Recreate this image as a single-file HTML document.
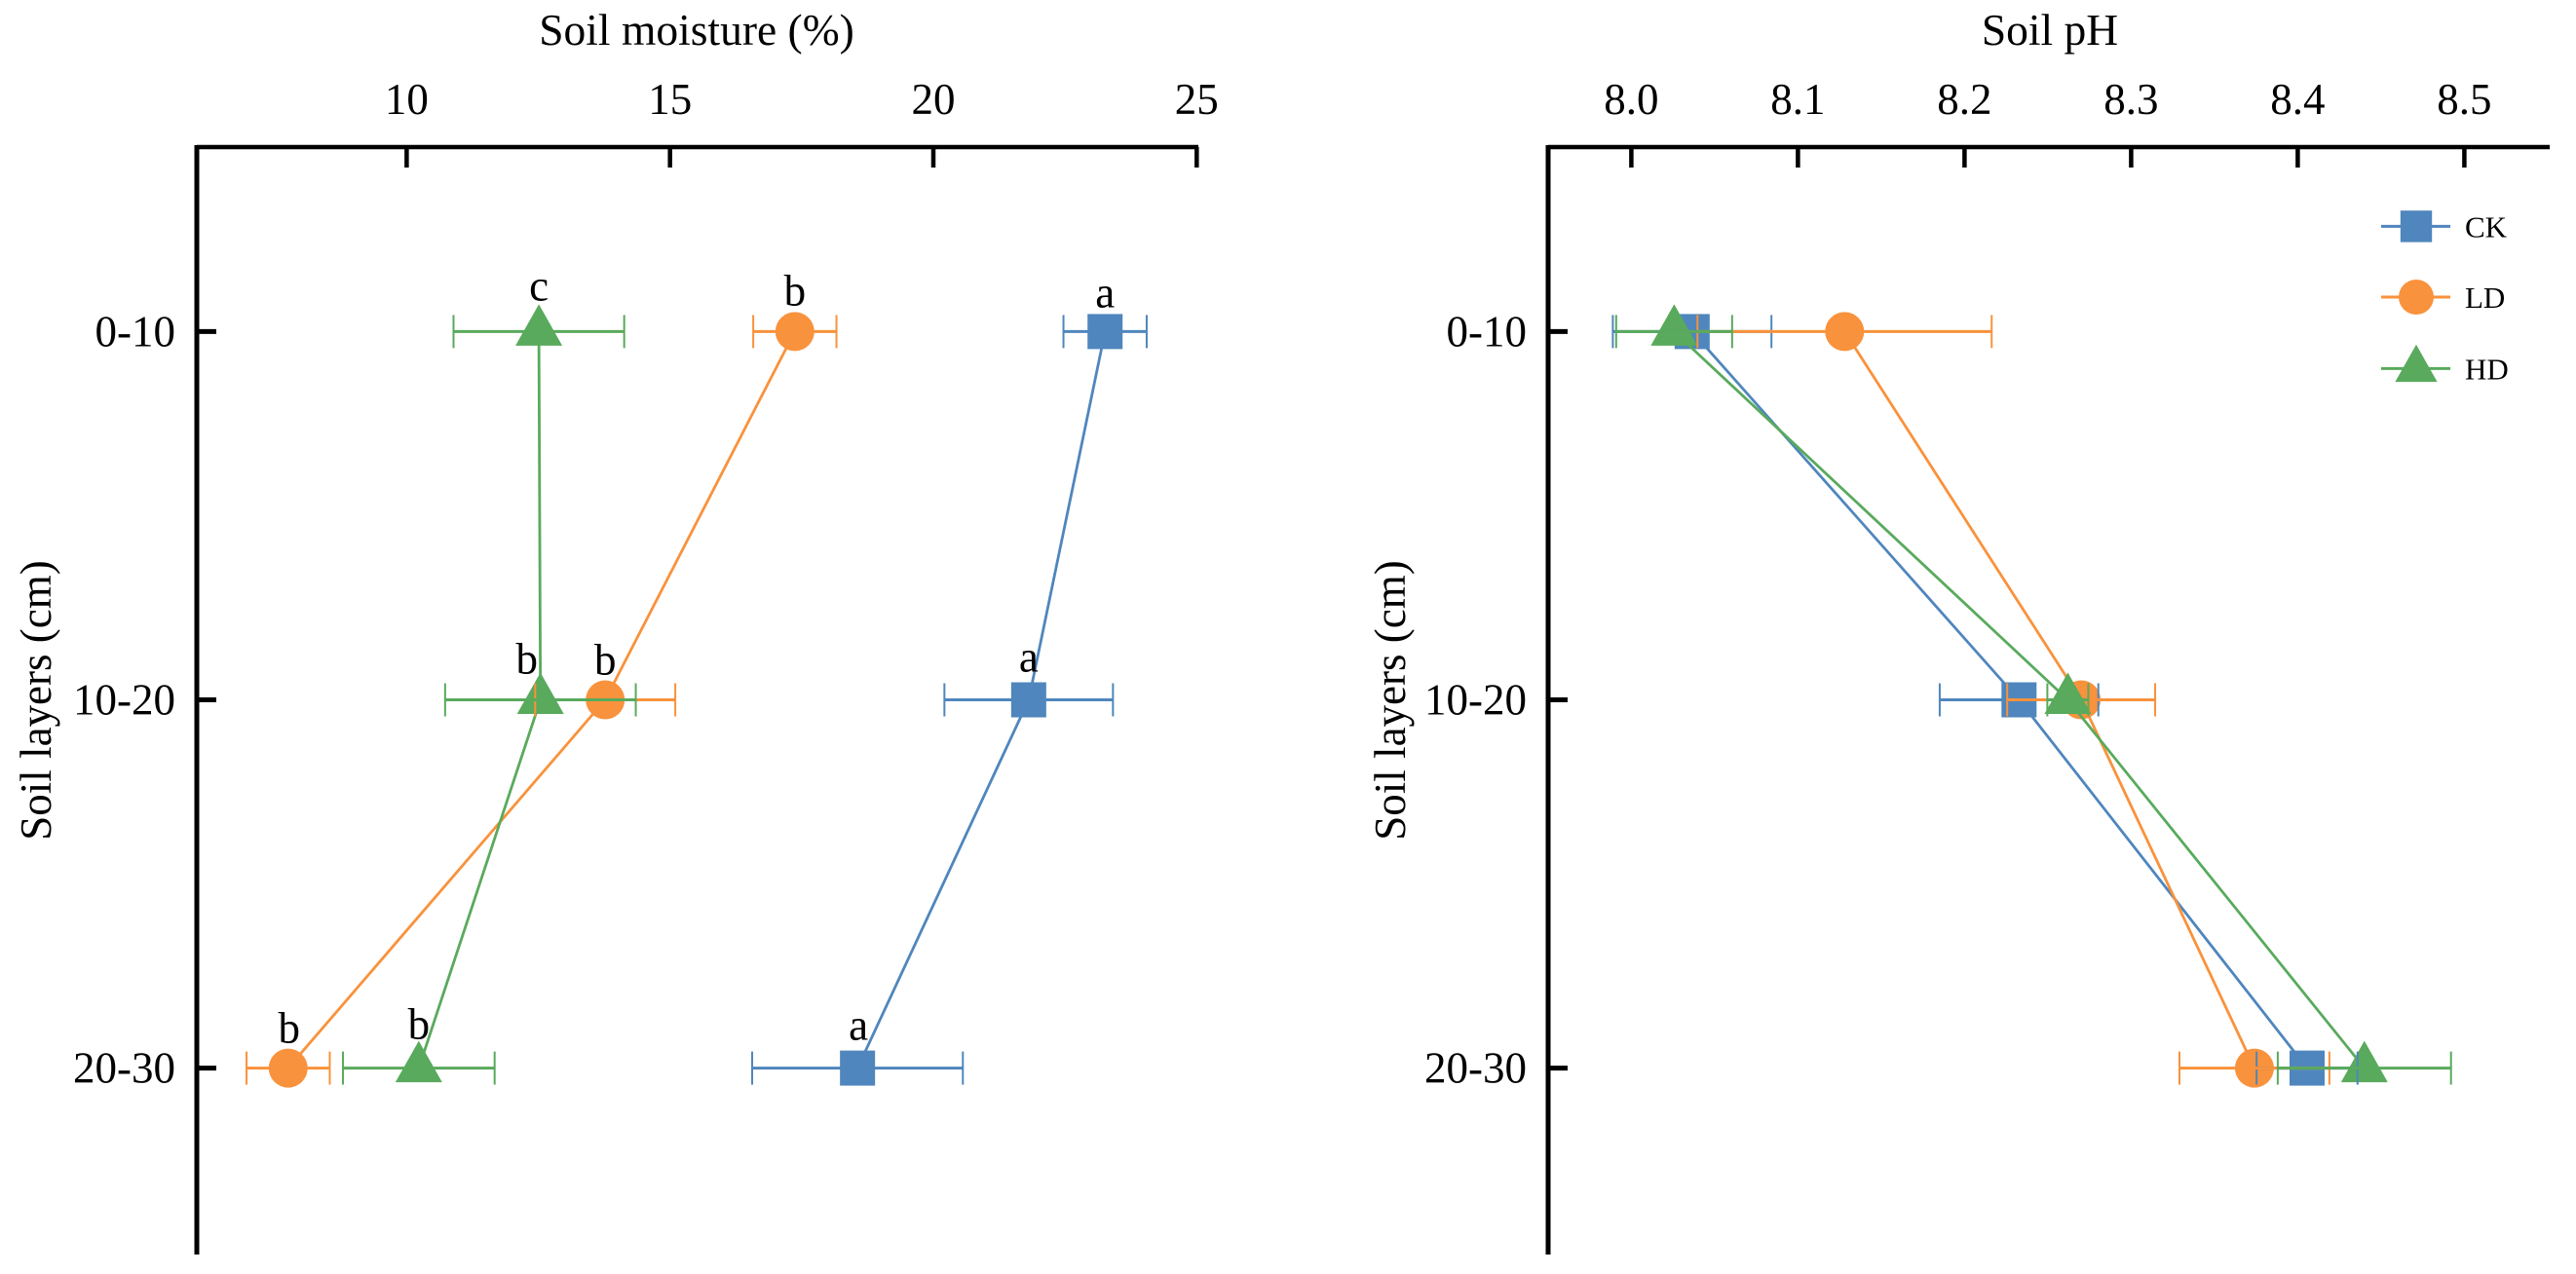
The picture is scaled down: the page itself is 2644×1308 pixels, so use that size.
<!DOCTYPE html>
<html lang="en">
<head>
<meta charset="utf-8">
<title>Soil moisture and pH by soil layer</title>
<style>
html,body{margin:0;padding:0;background:#fff;}
svg{display:block;}
text{font-family:"Liberation Serif",serif;fill:#000;}
</style>
</head>
<body>
<svg id="chart" xmlns="http://www.w3.org/2000/svg" width="2644" height="1308" viewBox="0 0 2644 1308"></svg>
<script>
const layers = ['0-10', '10-20', '20-30'];
const moistureTicks = [10, 15, 20, 25];
const phTicks = [8.0, 8.1, 8.2, 8.3, 8.4, 8.5];

const moistureCK = [23.26, 21.81, 18.56];
const moistureLD = [17.37, 13.77, 7.75];
const moistureHD = [12.51, 12.54, 10.23];
const moistureCKErr = [0.79, 1.60, 2.00];
const moistureLDErr = [0.79, 1.33, 0.79];
const moistureHDErr = [1.62, 1.81, 1.44];

const phCK = [8.0365, 8.2327, 8.4056];
const phLD = [8.128, 8.270, 8.374];
const phHD = [8.0257, 8.262, 8.44];
const phCKErr = [0.0476, 0.0476, 0.0303];
const phLDErr = [0.0883, 0.0444, 0.045];
const phHDErr = [0.0348, 0.0123, 0.052];

const moistureCKLetters = ['a', 'a', 'a'];
const moistureLDLetters = ['b', 'b', 'b'];
const moistureHDLetters = ['c', 'b', 'b'];

const svg = document.getElementById('chart');
const NS = 'http://www.w3.org/2000/svg';
const BLUE = '#4f86bd', ORANGE = '#f9923c', GREEN = '#59aa5c';

function mk(parent, tag, attrs, name) {
  const el = document.createElementNS(NS, tag);
  for (const k in attrs) el.setAttribute(k, attrs[k]);
  
  
  parent.appendChild(el);
  return el;
}
function txt(parent, s, x, y, size, anchor, name, extra) {
  const el = mk(parent, 'text', Object.assign({x: x, y: y, 'font-size': size, 'text-anchor': anchor}, extra || {}), name);
  el.textContent = s;
  return el;
}

const yLayer = i => 340.4 + i * 378.1;
const xMoisture = v => 417.4 + (v - 10) * 54.06;
const xPh = v => 1674.4 + (v - 8) * 1710;

function marker(parent, kind, cx, cy, color, k, name) {
  if (kind === 'square') {
    return mk(parent, 'rect', {x: cx - 18 * k, y: cy - 18 * k, width: 36 * k, height: 36 * k, fill: color}, name);
  }
  if (kind === 'circle') {
    return mk(parent, 'circle', {cx: cx, cy: cy, r: 20 * k, fill: color}, name);
  }
  const pts = [[cx, cy - 28 * k], [cx + 24 * k, cy + 14.5 * k], [cx - 24 * k, cy + 14.5 * k]];
  return mk(parent, 'polygon', {points: pts.map(p => p.join(',')).join(' '), fill: color}, name);
}

function axes(g, prefix, axisX, axisRight, ticks, xf, fmt, titleText, titleX, ylabelX) {
  mk(g, 'line', {x1: axisX, x2: axisRight, y1: 151, y2: 151, stroke: '#000', 'stroke-width': 4.5}, prefix + '-x-axis');
  mk(g, 'line', {x1: axisX, x2: axisX, y1: 149, y2: 1288, stroke: '#000', 'stroke-width': 5}, prefix + '-y-axis');
  ticks.forEach(t => {
    const x = xf(t);
    mk(g, 'line', {x1: x, x2: x, y1: 151, y2: 172, stroke: '#000', 'stroke-width': 4.5}, prefix + '-x-tick');
    txt(g, fmt(t), x, 117, 45, 'middle', prefix + '-x-tick-label');
  });
  layers.forEach((l, i) => {
    const y = yLayer(i);
    mk(g, 'line', {x1: axisX, x2: axisX + 20, y1: y, y2: y, stroke: '#000', 'stroke-width': 5}, prefix + '-y-tick');
    txt(g, l, axisX - 22, y + 15, 45, 'end', prefix + '-y-tick-label');
  });
  txt(g, titleText, titleX, 46, 45.5, 'middle', prefix + '-x-axis-title');
  txt(g, 'Soil layers (cm)', ylabelX, 719, 45, 'middle', prefix + '-y-axis-title', {transform: 'rotate(-90 ' + ylabelX + ' 719)'});
}

function series(g, prefix, key, values, xf, color, kind) {
  const pts = values.map((v, i) => xf(v) + ',' + yLayer(i)).join(' ');
  mk(g, 'polyline', {points: pts, fill: 'none', stroke: color, 'stroke-width': 2.8}, prefix + '-' + key + '-line');
  values.forEach((v, i) => marker(g, kind, xf(v), yLayer(i), color, 1, prefix + '-' + key + '-point'));
}
function errors(g, prefix, key, values, errs, xf, color) {
  values.forEach((v, i) => {
    const y = yLayer(i), a = xf(v - errs[i]), b = xf(v + errs[i]);
    mk(g, 'line', {x1: a, x2: b, y1: y, y2: y, stroke: color, 'stroke-width': 3}, prefix + '-' + key + '-error-bar');
    mk(g, 'line', {x1: a, x2: a, y1: y - 17, y2: y + 17, stroke: color, 'stroke-width': 2}, prefix + '-' + key + '-error-cap');
    mk(g, 'line', {x1: b, x2: b, y1: y - 17, y2: y + 17, stroke: color, 'stroke-width': 2}, prefix + '-' + key + '-error-cap');
  });
}

/* left panel */
const left = mk(svg, 'g', {}, 'soil-moisture-panel');
axes(left, 'moisture', 202, 1230, moistureTicks, xMoisture, t => String(t), 'Soil moisture (%)', 715, 52);
series(left, 'moisture', 'ck', moistureCK, xMoisture, BLUE, 'square');
series(left, 'moisture', 'ld', moistureLD, xMoisture, ORANGE, 'circle');
series(left, 'moisture', 'hd', moistureHD, xMoisture, GREEN, 'triangle');
errors(left, 'moisture', 'ck', moistureCK, moistureCKErr, xMoisture, BLUE);
errors(left, 'moisture', 'ld', moistureLD, moistureLDErr, xMoisture, ORANGE);
errors(left, 'moisture', 'hd', moistureHD, moistureHDErr, xMoisture, GREEN);

function letter(s, v, i, dx, dy) {
  txt(left, s, xMoisture(v) + dx, yLayer(i) + dy, 45, 'middle', 'significance-letter');
}
letter(moistureHDLetters[0], moistureHD[0], 0, 0, -32);
letter(moistureLDLetters[0], moistureLD[0], 0, 0, -27);
letter(moistureCKLetters[0], moistureCK[0], 0, 0, -25);
letter(moistureHDLetters[1], moistureHD[1], 1, -14, -27);
letter(moistureLDLetters[1], moistureLD[1], 1, 0, -26);
letter(moistureCKLetters[1], moistureCK[1], 1, 0, -29);
letter(moistureLDLetters[2], moistureLD[2], 2, 1, -26);
letter(moistureHDLetters[2], moistureHD[2], 2, 0, -30);
letter(moistureCKLetters[2], moistureCK[2], 2, 1, -29);

/* right panel */
const right = mk(svg, 'g', {}, 'soil-ph-panel');
axes(right, 'ph', 1589, 2617, phTicks, xPh, t => t.toFixed(1), 'Soil pH', 2104, 1442);
series(right, 'ph', 'ck', phCK, xPh, BLUE, 'square');
series(right, 'ph', 'ld', phLD, xPh, ORANGE, 'circle');
series(right, 'ph', 'hd', phHD, xPh, GREEN, 'triangle');
errors(right, 'ph', 'ck', phCK, phCKErr, xPh, BLUE);
errors(right, 'ph', 'ld', phLD, phLDErr, xPh, ORANGE);
errors(right, 'ph', 'hd', phHD, phHDErr, xPh, GREEN);

/* legend */
const legend = mk(svg, 'g', {}, 'legend');
function legendEntry(label, y, color, kind, k, my) {
  const g = mk(legend, 'g', {}, 'legend-entry-' + label.toLowerCase());
  mk(g, 'line', {x1: 2444, x2: 2515, y1: y, y2: y, stroke: color, 'stroke-width': 3}, 'legend-line');
  marker(g, kind, 2480, my, color, k, 'legend-marker');
  txt(g, label, 2530, y + 11, 31, 'start', 'legend-label');
}
legendEntry('CK', 232.4, BLUE, 'square', 0.9, 232.4);
legendEntry('LD', 305, ORANGE, 'circle', 0.9, 305);
legendEntry('HD', 378.4, GREEN, 'triangle', 0.9, 379);
</script>
</body>
</html>
